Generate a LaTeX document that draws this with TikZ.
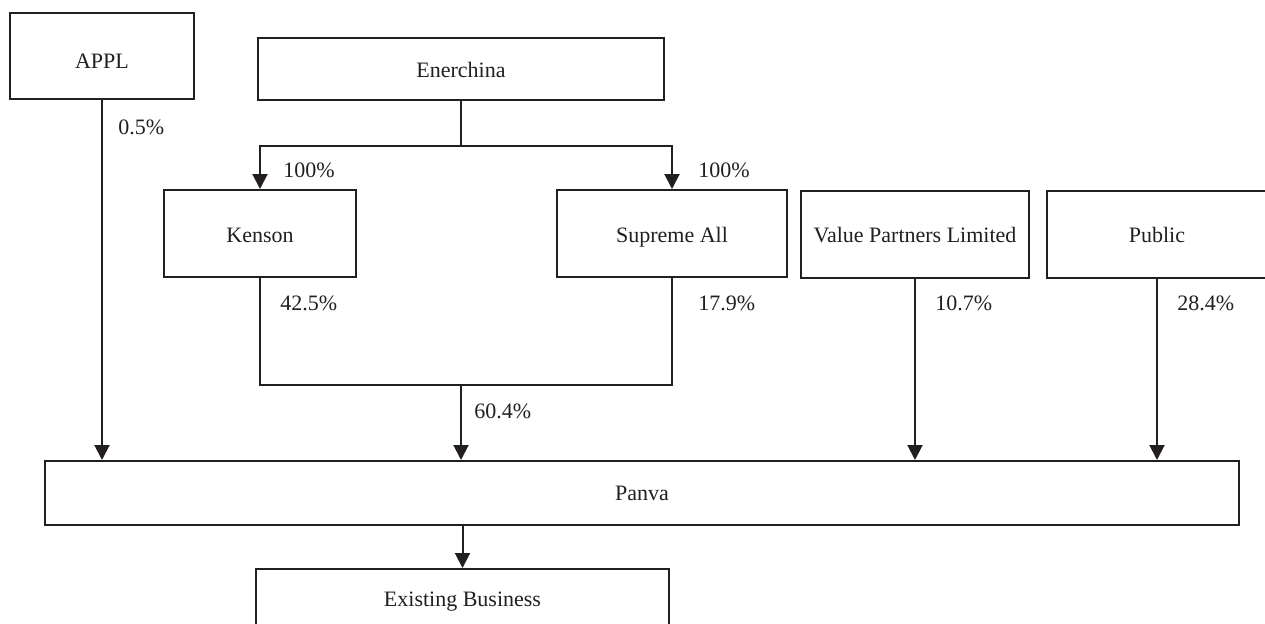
\documentclass[tikz,border=0pt]{standalone}
\usepackage{fontspec}
\setmainfont{Liberation Serif}
\usetikzlibrary{arrows.meta}
\definecolor{ink}{HTML}{231F20}
\begin{document}
\begin{tikzpicture}[x=0.5pt,y=-0.5pt,
  box/.style={draw=ink,line width=1pt,rectangle,inner sep=0pt,font=\fontsize{11}{13}\selectfont,text=ink,text height=7pt,text depth=0pt},
  pct/.style={anchor=west,inner sep=0pt,font=\fontsize{11}{13}\selectfont,text=ink},
  ln/.style={draw=ink,line width=1pt},
  arr/.style={ln,-{Triangle[width=7.5pt,length=7.5pt]}}]
\useasboundingbox (0,0) rectangle (1265,623);
\fill[white] (0,0) rectangle (1265,623);
% boxes
\node[box,minimum width=184*0.5pt,minimum height=86*0.5pt,text height=12pt] (appl) at (102,56) {APPL};
\node[box,minimum width=406*0.5pt,minimum height=62*0.5pt,text height=8pt] (ener) at (461,69) {Enerchina};
\node[box,minimum width=192*0.5pt,minimum height=87*0.5pt,text height=9pt] (kenson) at (260,233.5) {Kenson};
\node[box,minimum width=230*0.5pt,minimum height=87*0.5pt,text height=9pt] (supreme) at (672,233.5) {Supreme All};
\node[box,minimum width=228*0.5pt,minimum height=87*0.5pt,text height=8pt] (vp) at (915,234.5) {Value Partners Limited};
\node[box,minimum width=220*0.5pt,minimum height=87*0.5pt,text height=8pt] (public) at (1157,234.5) {Public};
\node[box,minimum width=1194*0.5pt,minimum height=64*0.5pt] (panva) at (642,493) {Panva};
\node[box,minimum width=413*0.5pt,minimum height=60*0.5pt] (eb) at (462.5,599) {Existing Business};
% junctions
\coordinate (j) at (461,146);
\coordinate (m) at (461,385);
% connectors
\draw[arr] (appl.south) -- (appl.south |- panva.north);
\draw[ln] (ener.south) -- (j);
\draw[arr] (j) -| (kenson.north);
\draw[arr] (j) -| (supreme.north);
\draw[ln] (kenson.south) -- (kenson.south |- m) -- (supreme.south |- m) -- (supreme.south);
\draw[arr] (m) -- (m |- panva.north);
\draw[arr] (vp.south) -- (vp.south |- panva.north);
\draw[arr] (public.south) -- (public.south |- panva.north);
\draw[arr] (eb.north |- panva.south) -- (eb.north);
% labels
\node[pct] (l1) at (118,127) {0.5\%};
\node[pct] (l2) at (283,170) {100\%};
\node[pct] (l3) at (698,170) {100\%};
\node[pct] (l4) at (280,303) {42.5\%};
\node[pct] (l5) at (698,303) {17.9\%};
\node[pct] (l6) at (935,303) {10.7\%};
\node[pct] (l7) at (1177,303) {28.4\%};
\node[pct] (l8) at (474,411) {60.4\%};
\end{tikzpicture}
\end{document}
